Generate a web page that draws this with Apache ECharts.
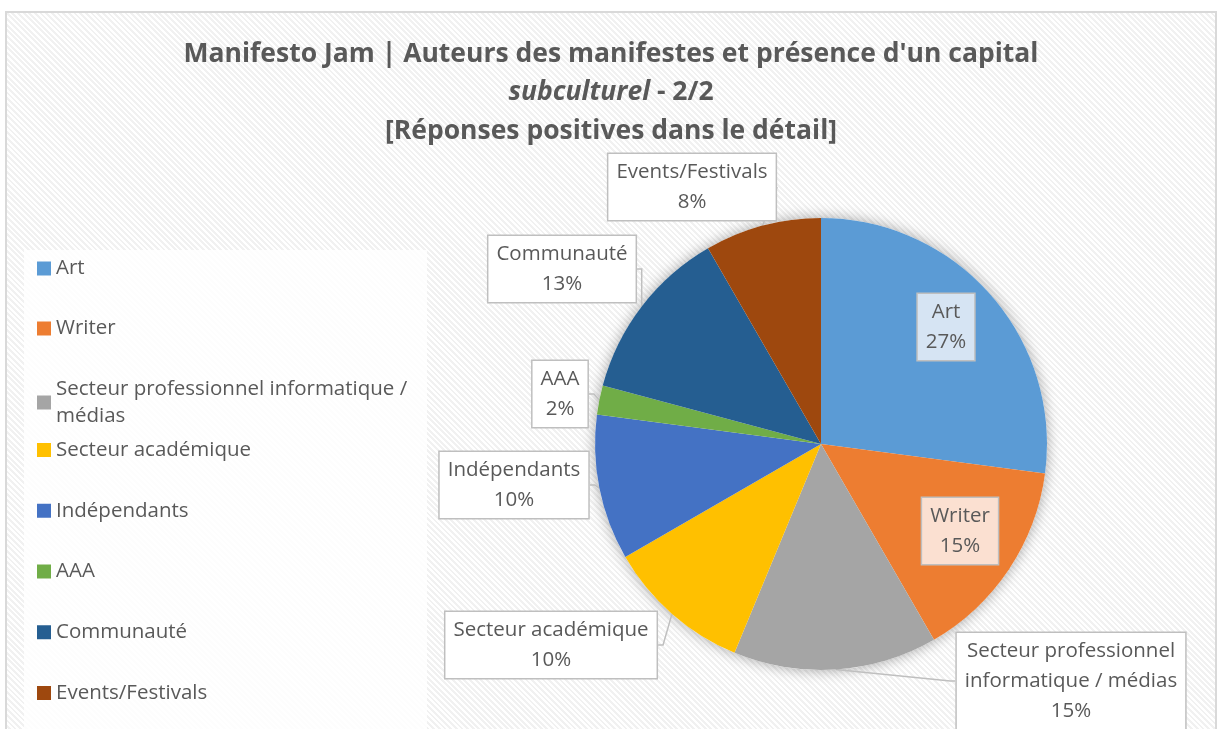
<!DOCTYPE html>
<html>
<head>
<meta charset="utf-8">
<script src="https://cdn.jsdelivr.net/npm/echarts@6/dist/echarts.min.js"></script>
<style>
  html, body { margin:0; padding:0; background:#ffffff; }
  #frame { position:absolute; left:5px; top:11px; width:1208px; height:740px;
    border:2px solid #d9d9d9;
    background: repeating-linear-gradient(45deg, #ffffff 0px, #ffffff 2px, #f1f1f1 2px, #f1f1f1 4px); }
  #legendBox { position:absolute; left:24px; top:250px; width:403px; height:500px;
    background: rgba(255,255,255,0.85); }
  #chart { position:absolute; left:0; top:0; width:1222px; height:729px; }
</style>
</head>
<body>
<div id="frame"></div>
<div id="legendBox"></div>
<div id="chart"></div>
<script>
// ---- data ----
const categories = ['Art', 'Writer', 'Secteur professionnel informatique / médias', 'Secteur académique', 'Indépendants', 'AAA', 'Communauté', 'Events/Festivals'];
const counts = [13, 7, 7, 5, 5, 1, 6, 4];
const colors = ['#5B9BD5', '#ED7D31', '#A5A5A5', '#FFC000', '#4472C4', '#70AD47', '#255E91', '#9E480E'];
const labelNames = ['Art', 'Writer', 'Secteur professionnel\ninformatique / médias', 'Secteur académique', 'Indépendants', 'AAA', 'Communauté', 'Events/Festivals'];

// ---- label placement (pixel centres of the callout boxes) ----
const labelPos = [[946, 327], [960, 531], [1071, 681], [551, 645], [514, 485], [560, 394], [562, 269], [692, 187]];
const labelBg = ['#d6e4f3', '#fbe0d1', '#ffffff', '#ffffff', '#ffffff', '#ffffff', '#ffffff', '#ffffff'];

const total = counts.reduce((a, b) => a + b, 0);
const FONT = "'Open Sans', 'Noto Sans', sans-serif";
const TXT = '#595959';

const chart = echarts.init(document.getElementById('chart'), null, { renderer: 'canvas' });

const pieData = categories.map((c, i) => ({
  name: c,
  value: counts[i],
  itemStyle: { color: colors[i] },
  label: { backgroundColor: labelBg[i] }
}));

const legendText = { color: TXT, fontFamily: FONT, fontSize: 20.5, lineHeight: 27 };

const option = {
  backgroundColor: 'transparent',
  title: {
    left: 'center',
    top: 30,
    text: "{b|Manifesto Jam | Auteurs des manifestes et présence d'un capital}\n{i|subculturel}{b| - 2/2}\n{b|[Réponses positives dans le détail]}",
    textStyle: {
      rich: {
        b: { fontFamily: FONT, fontWeight: 'bold', fontSize: 26.5, color: TXT, lineHeight: 38.5 },
        i: { fontFamily: FONT, fontWeight: 'bold', fontStyle: 'italic', fontSize: 26.5, color: TXT, lineHeight: 38.5 }
      }
    }
  },
  legend: [
    {
      orient: 'vertical', left: 37, top: 255, itemGap: 33, padding: 0,
      itemWidth: 14, itemHeight: 14, icon: 'rect',
      data: [categories[0], categories[1]],
      textStyle: legendText
    },
    {
      orient: 'vertical', left: 37, top: 362, itemGap: 33, padding: 0,
      itemWidth: 14, itemHeight: 14, icon: 'rect',
      data: [categories[2]],
      formatter: () => 'Secteur professionnel informatique /\nmédias',
      textStyle: Object.assign({}, legendText, { padding: [27, 0, 0, 0] })
    },
    {
      orient: 'vertical', left: 37, top: 436.5, itemGap: 33.75, padding: 0,
      itemWidth: 14, itemHeight: 14, icon: 'rect',
      data: categories.slice(3),
      textStyle: legendText
    }
  ],
  series: [
    {
      type: 'pie',
      silent: true,
      center: [821, 444],
      radius: 226,
      z: 1,
      label: { show: false },
      labelLine: { show: false },
      data: [{ value: 1, name: '_shadow', itemStyle: { color: '#ffffff', shadowBlur: 14, shadowColor: 'rgba(0,0,0,0.35)' } }],
      animation: false
    },
    {
      type: 'pie',
      center: [821, 444],
      radius: 226,
      startAngle: 90,
      clockwise: true,
      z: 2,
      animation: false,
      itemStyle: { borderWidth: 0 },
      data: pieData,
      label: {
        show: true,
        position: 'outside',
        formatter: (p) => labelNames[p.dataIndex] + '\n' + Math.round(p.value / total * 100) + '%',
        color: TXT,
        fontFamily: FONT,
        fontSize: 20.5,
        lineHeight: 30,
        align: 'center',
        borderColor: '#bfbfbf',
        borderWidth: 1.5,
        padding: [3, 8, 3, 8]
      },
      labelLine: {
        show: true,
        length: 5,
        length2: 5,
        lineStyle: { color: '#bfbfbf', width: 1.5 }
      },
      labelLayout: (params) => {
        const p = labelPos[params.dataIndex];
        return { x: p[0], y: p[1], align: 'center', verticalAlign: 'middle' };
      }
    }
  ]
};

chart.setOption(option);
</script>
</body>
</html>
